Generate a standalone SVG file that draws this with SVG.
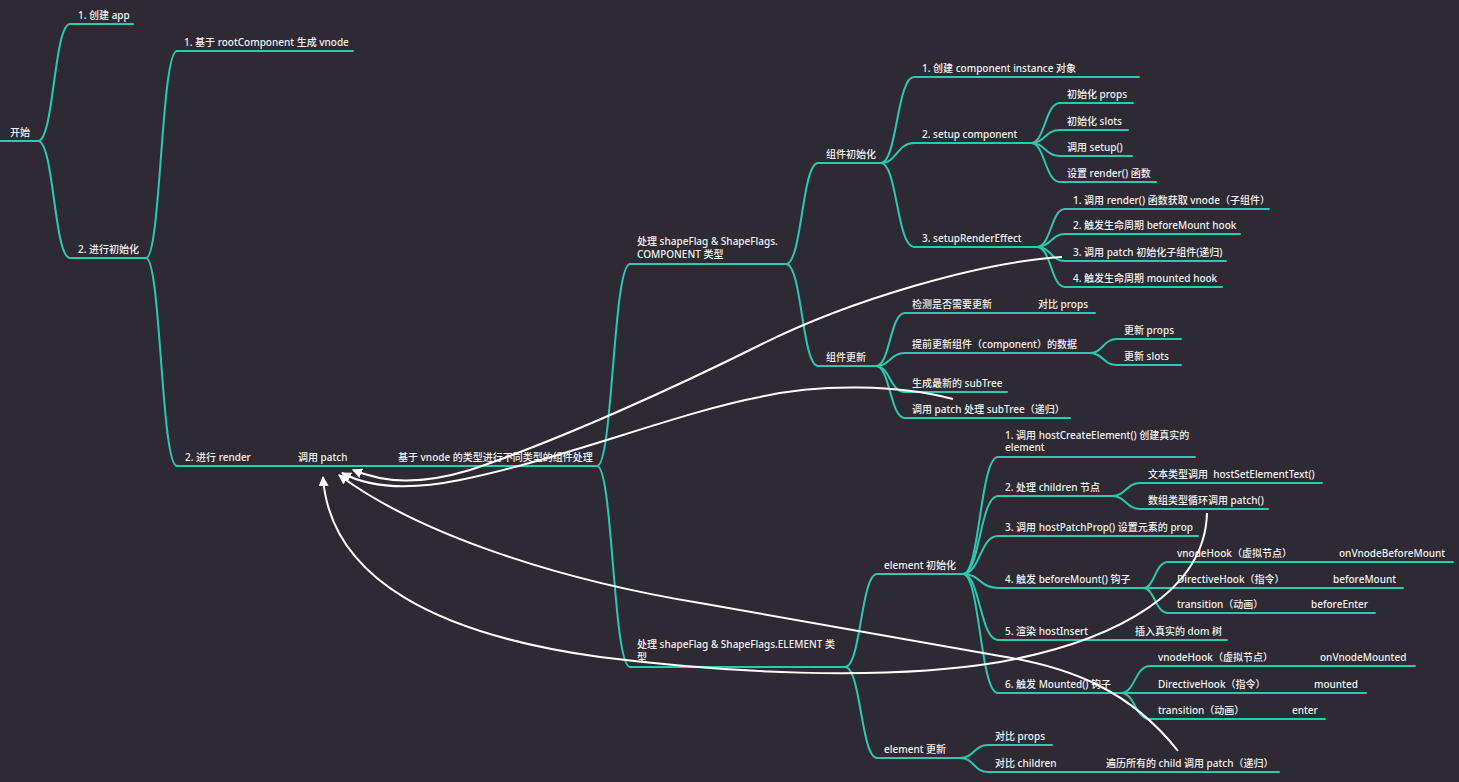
<svg xmlns="http://www.w3.org/2000/svg" width="1459" height="782" viewBox="0 0 1459 782">
<defs>
<style>
.t{font-family:"Noto Sans","Noto Sans CJK SC",sans-serif;font-size:10px;font-weight:500;fill:#f2f2f2;white-space:pre}
.u{stroke:#2cc9b1;stroke-width:2;fill:none;stroke-linecap:round}
.b{stroke:#2cc9b1;stroke-width:2;fill:none}
.r{stroke:#ffffff;stroke-width:2;fill:none;marker-end:url(#ah)}
</style>
<marker id="ah" viewBox="0 0 10 10" refX="9" refY="5" markerWidth="5" markerHeight="5" markerUnits="strokeWidth" orient="auto">
<path d="M0,0 L10,5 L0,10 z" fill="#ffffff"/>
</marker>
</defs>
<rect x="0" y="0" width="1459" height="782" fill="#2e2a33"/>

<g id="branches">
<path class="b" d="M38,141 C54,141 54,24 70,24"/>
<path class="b" d="M38,141 C54,141 54,258 70,258"/>
<path class="b" d="M146,258 C161,258 161,51 177,51"/>
<path class="b" d="M146,258 C161,258 161,466 177,466"/>
<path class="b" d="M597,466 C613,466 613,264 630,264"/>
<path class="b" d="M597,466 C613,466 613,667 630,667"/>
<path class="b" d="M786,264 C802,264 802,163 818,163"/>
<path class="b" d="M786,264 C802,264 802,366 818,366"/>
<path class="b" d="M881,163 C897,163 897,77 914,77"/>
<path class="b" d="M881,163 C897,163 897,143 914,143"/>
<path class="b" d="M881,163 C897,163 897,247 914,247"/>
<path class="b" d="M1031,143 C1045,143 1045,103 1060,103"/>
<path class="b" d="M1031,143 C1045,143 1045,130 1060,130"/>
<path class="b" d="M1031,143 C1045,143 1045,156 1060,156"/>
<path class="b" d="M1031,143 C1045,143 1045,182 1060,182"/>
<path class="b" d="M1037,247 C1051,247 1051,209 1065,209"/>
<path class="b" d="M1037,247 C1051,247 1051,234 1065,234"/>
<path class="b" d="M1037,247 C1051,247 1051,261 1065,261"/>
<path class="b" d="M1037,247 C1051,247 1051,287 1065,287"/>
<path class="b" d="M876,366 C890,366 890,313 905,313"/>
<path class="b" d="M876,366 C890,366 890,353 905,353"/>
<path class="b" d="M876,366 C890,366 890,392 905,392"/>
<path class="b" d="M876,366 C890,366 890,418 905,418"/>
<path class="b" d="M1090,353 C1103,353 1103,339 1117,339"/>
<path class="b" d="M1090,353 C1103,353 1103,365 1117,365"/>
<path class="b" d="M845,667 C861,667 861,574 877,574"/>
<path class="b" d="M845,667 C861,667 861,758 877,758"/>
<path class="b" d="M963,574 C980,574 980,457 998,457"/>
<path class="b" d="M963,574 C980,574 980,496 998,496"/>
<path class="b" d="M963,574 C980,574 980,536 998,536"/>
<path class="b" d="M963,574 C980,574 980,588 998,588"/>
<path class="b" d="M963,574 C980,574 980,640 998,640"/>
<path class="b" d="M963,574 C980,574 980,693 998,693"/>
<path class="b" d="M1112,496 C1126,496 1126,483 1140,483"/>
<path class="b" d="M1112,496 C1126,496 1126,509 1140,509"/>
<path class="b" d="M1143,588 C1155,588 1155,562 1168,562"/>
<path class="b" d="M1143,588 L1168,588"/>
<path class="b" d="M1143,588 C1155,588 1155,613 1168,613"/>
<path class="b" d="M1121,693 C1135,693 1135,666 1150,666"/>
<path class="b" d="M1121,693 L1150,693"/>
<path class="b" d="M1121,693 C1135,693 1135,719 1150,719"/>
<path class="b" d="M960,758 C974,758 974,745 988,745"/>
<path class="b" d="M960,758 C974,758 974,772 988,772"/>
</g>

<g id="n-root"><line class="u" x1="0" y1="141" x2="38" y2="141"/><text class="t" x="10" y="136">开始</text></g>
<g id="n-app"><line class="u" x1="70" y1="24" x2="133" y2="24"/><text class="t" x="78" y="19">1. 创建 app</text></g>
<g id="n-init"><line class="u" x1="70" y1="258" x2="146" y2="258"/><text class="t" x="78" y="253">2. 进行初始化</text></g>
<g id="n-vnode"><line class="u" x1="177" y1="51" x2="353" y2="51"/><text class="t" x="184" y="46">1. 基于 rootComponent 生成 vnode</text></g>
<g id="n-render"><line class="u" x1="177" y1="466" x2="290" y2="466"/><text class="t" x="185" y="461">2. 进行 render</text></g>
<g id="n-patch"><line class="u" x1="290" y1="466" x2="390" y2="466"/><text class="t" x="298" y="461">调用 patch</text></g>
<g id="n-vtype"><line class="u" x1="390" y1="466" x2="597" y2="466"/><text class="t" x="398" y="461">基于 vnode 的类型进行不同类型的组件处理</text></g>
<g id="n-comp"><line class="u" x1="630" y1="264" x2="786" y2="264"/><text class="t" x="637" y="245">处理 shapeFlag &amp; ShapeFlags.</text><text class="t" x="637" y="258">COMPONENT 类型</text></g>
<g id="n-cinit"><line class="u" x1="818" y1="163" x2="881" y2="163"/><text class="t" x="826" y="158">组件初始化</text></g>
<g id="n-cinst"><line class="u" x1="914" y1="77" x2="1139" y2="77"/><text class="t" x="922" y="72">1. 创建 component instance 对象</text></g>
<g id="n-setup"><line class="u" x1="914" y1="143" x2="1031" y2="143"/><text class="t" x="922" y="138">2. setup component</text></g>
<g id="n-props"><line class="u" x1="1060" y1="103" x2="1133" y2="103"/><text class="t" x="1067" y="98">初始化 props</text></g>
<g id="n-slots"><line class="u" x1="1060" y1="130" x2="1128" y2="130"/><text class="t" x="1067" y="125">初始化 slots</text></g>
<g id="n-setupfn"><line class="u" x1="1060" y1="156" x2="1132" y2="156"/><text class="t" x="1067" y="151">调用 setup()</text></g>
<g id="n-renderfn"><line class="u" x1="1060" y1="182" x2="1156" y2="182"/><text class="t" x="1067" y="177">设置 render() 函数</text></g>
<g id="n-sre"><line class="u" x1="914" y1="247" x2="1037" y2="247"/><text class="t" x="922" y="242">3. setupRenderEffect</text></g>
<g id="n-sre1"><line class="u" x1="1065" y1="209" x2="1269" y2="209"/><text class="t" x="1073" y="204">1. 调用 render() 函数获取 vnode（子组件）</text></g>
<g id="n-sre2"><line class="u" x1="1065" y1="234" x2="1240" y2="234"/><text class="t" x="1073" y="229">2. 触发生命周期 beforeMount hook</text></g>
<g id="n-sre3"><line class="u" x1="1065" y1="261" x2="1226" y2="261"/><text class="t" x="1073" y="256">3. 调用 patch 初始化子组件(递归)</text></g>
<g id="n-sre4"><line class="u" x1="1065" y1="287" x2="1222" y2="287"/><text class="t" x="1073" y="282">4. 触发生命周期 mounted hook</text></g>
<g id="n-cupd"><line class="u" x1="818" y1="366" x2="876" y2="366"/><text class="t" x="826" y="361">组件更新</text></g>
<g id="n-check"><line class="u" x1="905" y1="313" x2="1030" y2="313"/><text class="t" x="912" y="308">检测是否需要更新</text></g>
<g id="n-cmpprops"><line class="u" x1="1030" y1="313" x2="1095" y2="313"/><text class="t" x="1038" y="308">对比 props</text></g>
<g id="n-pre"><line class="u" x1="905" y1="353" x2="1090" y2="353"/><text class="t" x="912" y="348">提前更新组件（component）的数据</text></g>
<g id="n-updprops"><line class="u" x1="1117" y1="339" x2="1181" y2="339"/><text class="t" x="1124" y="334">更新 props</text></g>
<g id="n-updslots"><line class="u" x1="1117" y1="365" x2="1181" y2="365"/><text class="t" x="1124" y="360">更新 slots</text></g>
<g id="n-subtree"><line class="u" x1="905" y1="392" x2="1007" y2="392"/><text class="t" x="912" y="387">生成最新的 subTree</text></g>
<g id="n-patchsub"><line class="u" x1="905" y1="418" x2="1070" y2="418"/><text class="t" x="912" y="413">调用 patch 处理 subTree（递归）</text></g>
<g id="n-elem"><line class="u" x1="630" y1="667" x2="845" y2="667"/><text class="t" x="637" y="648">处理 shapeFlag &amp; ShapeFlags.ELEMENT 类</text><text class="t" x="637" y="661">型</text></g>
<g id="n-einit"><line class="u" x1="877" y1="574" x2="963" y2="574"/><text class="t" x="884" y="569">element 初始化</text></g>
<g id="n-e1"><line class="u" x1="998" y1="457" x2="1195" y2="457"/><text class="t" x="1005" y="439">1. 调用 hostCreateElement() 创建真实的</text><text class="t" x="1005" y="451">element</text></g>
<g id="n-e2"><line class="u" x1="998" y1="496" x2="1112" y2="496"/><text class="t" x="1005" y="491">2. 处理 children 节点</text></g>
<g id="n-e2a"><line class="u" x1="1140" y1="483" x2="1322" y2="483"/><text class="t" x="1148" y="478">文本类型调用  hostSetElementText()</text></g>
<g id="n-e2b"><line class="u" x1="1140" y1="509" x2="1268" y2="509"/><text class="t" x="1148" y="504">数组类型循环调用 patch()</text></g>
<g id="n-e3"><line class="u" x1="998" y1="536" x2="1198" y2="536"/><text class="t" x="1005" y="531">3. 调用 hostPatchProp() 设置元素的 prop</text></g>
<g id="n-e4"><line class="u" x1="998" y1="588" x2="1143" y2="588"/><text class="t" x="1005" y="583">4. 触发 beforeMount() 钩子</text></g>
<g id="n-e4a"><line class="u" x1="1168" y1="562" x2="1330" y2="562"/><text class="t" x="1177" y="557">vnodeHook（虚拟节点）</text></g>
<g id="n-e4a2"><line class="u" x1="1330" y1="562" x2="1453" y2="562"/><text class="t" x="1339" y="557">onVnodeBeforeMount</text></g>
<g id="n-e4b"><line class="u" x1="1168" y1="588" x2="1325" y2="588"/><text class="t" x="1177" y="583">DirectiveHook（指令）</text></g>
<g id="n-e4b2"><line class="u" x1="1325" y1="588" x2="1403" y2="588"/><text class="t" x="1333" y="583">beforeMount</text></g>
<g id="n-e4c"><line class="u" x1="1168" y1="613" x2="1302" y2="613"/><text class="t" x="1177" y="608">transition（动画）</text></g>
<g id="n-e4c2"><line class="u" x1="1302" y1="613" x2="1375" y2="613"/><text class="t" x="1311" y="608">beforeEnter</text></g>
<g id="n-e5"><line class="u" x1="998" y1="640" x2="1128" y2="640"/><text class="t" x="1005" y="635">5. 渲染 hostInsert</text></g>
<g id="n-e5a"><line class="u" x1="1128" y1="640" x2="1227" y2="640"/><text class="t" x="1135" y="635">插入真实的 dom 树</text></g>
<g id="n-e6"><line class="u" x1="998" y1="693" x2="1121" y2="693"/><text class="t" x="1005" y="688">6. 触发 Mounted() 钩子</text></g>
<g id="n-e6a"><line class="u" x1="1150" y1="666" x2="1312" y2="666"/><text class="t" x="1158" y="661">vnodeHook（虚拟节点）</text></g>
<g id="n-e6a2"><line class="u" x1="1312" y1="666" x2="1415" y2="666"/><text class="t" x="1320" y="661">onVnodeMounted</text></g>
<g id="n-e6b"><line class="u" x1="1150" y1="693" x2="1306" y2="693"/><text class="t" x="1158" y="688">DirectiveHook（指令）</text></g>
<g id="n-e6b2"><line class="u" x1="1306" y1="693" x2="1366" y2="693"/><text class="t" x="1314" y="688">mounted</text></g>
<g id="n-e6c"><line class="u" x1="1150" y1="719" x2="1285" y2="719"/><text class="t" x="1158" y="714">transition（动画）</text></g>
<g id="n-e6c2"><line class="u" x1="1285" y1="719" x2="1325" y2="719"/><text class="t" x="1292" y="714">enter</text></g>
<g id="n-eupd"><line class="u" x1="877" y1="758" x2="960" y2="758"/><text class="t" x="884" y="753">element 更新</text></g>
<g id="n-eu1"><line class="u" x1="988" y1="745" x2="1052" y2="745"/><text class="t" x="995" y="740">对比 props</text></g>
<g id="n-eu2"><line class="u" x1="988" y1="772" x2="1098" y2="772"/><text class="t" x="995" y="767">对比 children</text></g>
<g id="n-eu2a"><line class="u" x1="1098" y1="772" x2="1279" y2="772"/><text class="t" x="1106" y="767">遍历所有的 child 调用 patch（递归）</text></g>

<g id="relations">
<path class="r" d="M1062,257 C980,262 850,300 760,345 C680,385 560,440 470,470 C420,485 385,483 353,470"/>
<path class="r" d="M953,399 C900,385 820,383 760,397 C680,412 560,460 460,480 C410,490 370,488 342,473"/>
<path class="r" d="M1207,513 C1205,590 1120,640 1000,662 C880,682 720,672 600,657 C440,635 330,580 323,477"/>
<path class="r" d="M1178,751 C1130,690 1070,667 1000,656 C900,638 800,620 700,603 C560,580 420,535 339,475"/>
</g>
</svg>
